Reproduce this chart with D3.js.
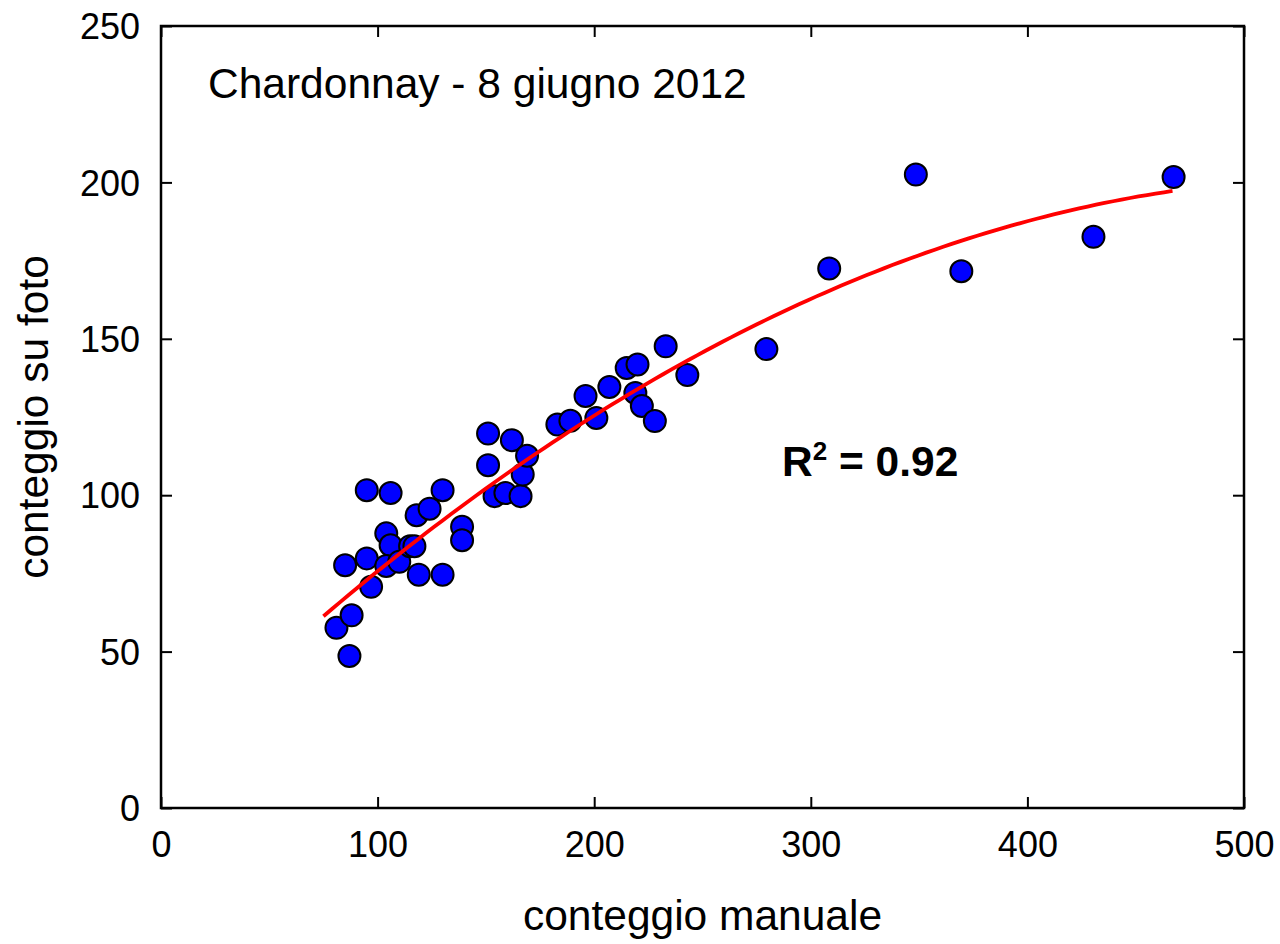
<!DOCTYPE html>
<html>
<head>
<meta charset="utf-8">
<script src="https://cdn.jsdelivr.net/npm/d3@7"></script>
<style>
  html, body { margin: 0; padding: 0; background: #fff; }
  svg { display: block; font-family: "Liberation Sans", Arial, sans-serif; }
</style>
</head>
<body>
<svg id="chart" width="1280" height="944"></svg>
<script>
// ---- data ----
const manualCount = [81, 87, 88, 85, 95, 95, 97, 106, 104, 106, 104, 110, 115, 117, 118, 119, 124, 130, 130, 139, 139,
  151, 151, 154, 159, 162, 166, 167, 169, 183, 189, 196, 201, 207, 215, 220, 219, 222, 228, 233, 243,
  279.5, 308.5, 348.5, 369.5, 430.5, 467.5];
const photoCount = [57.6, 48.6, 61.6, 77.6, 101.6, 79.8, 70.7, 100.7, 87.8, 84, 77.4, 78.7, 83.7, 83.7, 93.6, 74.6, 95.7, 101.6, 74.6, 89.9, 85.6,
  119.7, 109.6, 99.7, 100.7, 117.6, 99.7, 106.6, 112.6, 122.6, 123.8, 131.7, 124.7, 134.6, 140.7, 141.8, 132.7, 128.5, 123.7, 147.6, 138.4,
  146.7, 172.5, 202.5, 171.6, 182.6, 201.7];
// quadratic trend line y = a + b x + c x^2 (coefficients)
const fitCoefficients = [13.47, 0.6845, -0.000623];
const fitRange = [75, 467];
const xTicks = [0, 100, 200, 300, 400, 500];
const yTicks = [0, 50, 100, 150, 200, 250];
const titleText = "Chardonnay - 8 giugno 2012";
const xLabel = "conteggio manuale";
const yLabel = "conteggio su foto";
const r2Value = "0.92";

// ---- layout ----
const svg = d3.select("#chart");
const L = 161, R = 1244, T = 26, B = 808;
const x = d3.scaleLinear().domain([0, 500]).range([L, R]);
const y = d3.scaleLinear().domain([0, 250]).range([B, T]);

// axes with inward ticks on all four sides
const tickLen = 11;
const gb = svg.append("g").attr("transform", `translate(0,${B})`)
  .call(d3.axisBottom(x).tickValues(xTicks).tickSize(-tickLen).tickPadding(23).tickFormat(d3.format("d")));
const gl = svg.append("g").attr("transform", `translate(${L},0)`)
  .call(d3.axisLeft(y).tickValues(yTicks).tickSize(-tickLen).tickPadding(21).tickFormat(d3.format("d")));
const gt = svg.append("g").attr("transform", `translate(0,${T})`)
  .call(d3.axisTop(x).tickValues(xTicks).tickSize(-tickLen).tickFormat(""));
const gr = svg.append("g").attr("transform", `translate(${R},0)`)
  .call(d3.axisRight(y).tickValues(yTicks).tickSize(-tickLen).tickFormat(""));

[gb, gl, gt, gr].forEach(g => {
  g.select(".domain").remove();
  g.selectAll(".tick line").attr("stroke", "#000").attr("stroke-width", 2);
  g.selectAll(".tick text").attr("fill", "#000").style("font-size", "36px")
    .style("font-family", "'Liberation Sans', Arial, sans-serif");
});
gb.selectAll(".tick text").attr("dy", "0.71em");
gl.selectAll(".tick text").attr("dy", "0.35em");

// frame
svg.append("rect").attr("x", L).attr("y", T).attr("width", R - L).attr("height", B - T)
  .attr("fill", "none").attr("stroke", "#000").attr("stroke-width", 2.5);

// trend line
const fitX = d3.range(fitRange[0], fitRange[1] + 0.001, (fitRange[1] - fitRange[0]) / 100);
const fitPts = fitX.map(v => [v, fitCoefficients[0] + fitCoefficients[1] * v + fitCoefficients[2] * v * v]);

// points
const pts = manualCount.map((v, i) => [v, photoCount[i]]);
svg.append("g").selectAll("circle").data(pts).join("circle")
  .attr("cx", d => x(d[0])).attr("cy", d => y(d[1])).attr("r", 11)
  .attr("fill", "#0000ff").attr("stroke", "#000").attr("stroke-width", 2);

svg.append("path").datum(fitPts)
  .attr("d", d3.line().x(d => x(d[0])).y(d => y(d[1])))
  .attr("fill", "none").attr("stroke", "#ff0000").attr("stroke-width", 3.8);

// texts
const fs = "42.5px";
svg.append("text").attr("x", 208).attr("y", 98).style("font-size", fs).text(titleText);
svg.append("text").attr("x", (L + R) / 2).attr("y", 930).attr("text-anchor", "middle")
  .style("font-size", fs).text(xLabel);
svg.append("text").attr("transform", `translate(48,${(T + B) / 2}) rotate(-90)`)
  .attr("text-anchor", "middle").style("font-size", fs).text(yLabel);

const r2 = svg.append("text").attr("x", 782).attr("y", 476).style("font-size", fs).style("font-weight", "bold");
r2.append("tspan").text("R");
r2.append("tspan").attr("dy", -16).style("font-size", "26px").text("2");
r2.append("tspan").attr("dy", 16).text(" = " + r2Value);
</script>
</body>
</html>
